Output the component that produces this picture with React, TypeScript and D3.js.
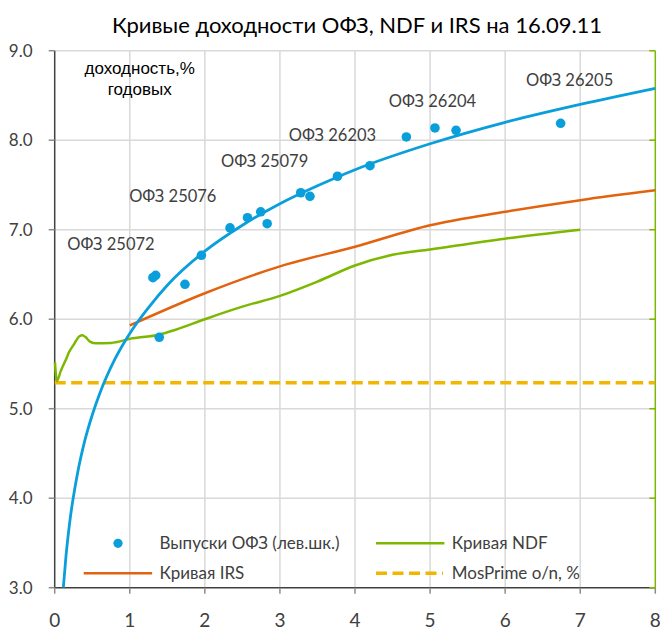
import React from "react";
import * as d3 from "d3";

// ---- data ----
const ofzX = [1.308, 1.345, 1.735, 1.954, 2.335, 2.568, 2.744, 2.83, 3.277, 3.40, 3.767, 4.20, 1.393, 4.684, 5.065, 5.346, 6.739];
const ofzY = [6.464, 6.49, 6.39, 6.714, 7.02, 7.134, 7.20, 7.067, 7.413, 7.373, 7.597, 7.715, 5.798, 8.036, 8.137, 8.11, 8.189];

// trend line through the OFZ issues
const trendX = [0.115, 0.15, 0.2, 0.3, 0.4, 0.5, 0.6, 0.8, 1.0, 1.25, 1.5, 2.0, 2.5, 3.0, 3.5, 4.0, 5.0, 6.0, 7.0, 8.0];
const trendY = [3.0, 3.35, 3.73, 4.26, 4.64, 4.93, 5.17, 5.55, 5.84, 6.13, 6.38, 6.76, 7.05, 7.29, 7.49, 7.67, 7.96, 8.20, 8.40, 8.58];

const irsX = [1.0, 2.0, 3.0, 4.0, 5.0, 6.0, 7.0, 8.0];
const irsY = [5.93, 6.29, 6.59, 6.81, 7.05, 7.20, 7.33, 7.44];

const ndfX = [0.003, 0.03, 0.08, 0.16, 0.19, 0.25, 0.33, 0.37, 0.41, 0.47, 0.55, 0.75, 1.0, 1.4, 1.6, 2.0, 2.5, 3.0, 3.5, 4.0, 4.5, 5.0, 6.0, 7.0];
const ndfY = [5.52, 5.31, 5.42, 5.57, 5.63, 5.71, 5.81, 5.82, 5.80, 5.75, 5.73, 5.735, 5.78, 5.83, 5.88, 6.0, 6.14, 6.26, 6.42, 6.60, 6.72, 6.78, 6.90, 7.0];

const mosPrimeX = [0, 8];
const mosPrimeY = [5.29, 5.29];

const bondLabels = ["ОФЗ 25072", "ОФЗ 25076", "ОФЗ 25079", "ОФЗ 26203", "ОФЗ 26204", "ОФЗ 26205"];
const bondLabelX = [0.75, 1.573, 2.796, 3.70, 5.032, 6.858];
const bondLabelY = [6.773, 7.313, 7.704, 7.991, 8.374, 8.606];

const xTicks = [0, 1, 2, 3, 4, 5, 6, 7, 8];
const yTicks = [3, 4, 5, 6, 7, 8, 9];

const title = "Кривые доходности ОФЗ, NDF и IRS на 16.09.11";
const unitLines = ["доходность,%", "годовых"];
const legendNames = ["Выпуски ОФЗ (лев.шк.)", "Кривая NDF", "Кривая IRS", "MosPrime o/n, %"];

// ---- styles ----
const W = 660, H = 631;
const BLUE = "#0a9fdb";
const ORANGE = "#e2620e";
const GREEN = "#7db800";
const YELLOW = "#f0b600";
const TEXT = "#404040";
const GRID = "#d9d9d9";
const FONT = "Lato, 'Open Sans', sans-serif";

export default function App() {
  const x = d3.scaleLinear().domain([0, 8]).range([54.7, 655.3]);
  const y = d3.scaleLinear().domain([3, 9]).range([587.7, 50.7]);

  const zip = (xs: number[], ys: number[]) => xs.map((v, i) => [v, ys[i]] as [number, number]);
  const line = d3.line<[number, number]>().x(d => x(d[0])).y(d => y(d[1]));
  const smooth = d3.line<[number, number]>().x(d => x(d[0])).y(d => y(d[1])).curve(d3.curveMonotoneX);

  const x0 = x(0), x1 = x(8), yTop = y(9), yBot = y(3);

  return (
    <svg width={W} height={H} style={{ position: "absolute", left: 0, top: 0, background: "#fff" }} fontFamily={FONT}>
      <rect width={W} height={H} fill="#fff" />
      {/* title */}
      <text x={357} y={33} textAnchor="middle" fontSize={22} fill="#000">{title}</text>

      {/* grid */}
      {yTicks.filter(t => t > 3).map(t => (
        <line key={"gy" + t} x1={x0} x2={x1} y1={y(t)} y2={y(t)} stroke={GRID} strokeWidth={1.5} />
      ))}
      {xTicks.filter(t => t > 0 && t < 8).map(t => (
        <line key={"gx" + t} x1={x(t)} x2={x(t)} y1={yTop} y2={yBot} stroke={GRID} strokeWidth={1.5} />
      ))}

      {/* left axis */}
      <line x1={x0} x2={x0} y1={yTop} y2={yBot} stroke={TEXT} strokeWidth={1.5} />
      {yTicks.map(t => (
        <g key={"ly" + t}>
          <line x1={x0 - 6} x2={x0} y1={y(t)} y2={y(t)} stroke="#8c8c8c" strokeWidth={1.5} />
          <text x={32.5} y={y(t)} dy="0.35em" textAnchor="end" fontSize={17} fill={TEXT}>{t.toFixed(1)}</text>
        </g>
      ))}
      {/* bottom axis */}
      <line x1={x0} x2={x1} y1={yBot} y2={yBot} stroke={TEXT} strokeWidth={1.5} />
      {xTicks.map(t => (
        <g key={"lx" + t}>
          <line x1={x(t)} x2={x(t)} y1={yBot} y2={yBot + 6} stroke="#8c8c8c" strokeWidth={1.5} />
          <text x={x(t)} y={627} textAnchor="middle" fontSize={19} fill={TEXT}>{t}</text>
        </g>
      ))}
      {/* right axis (green) */}
      <line x1={x1} x2={x1} y1={yTop} y2={yBot} stroke={GREEN} strokeWidth={1.5} />
      {yTicks.map(t => (
        <line key={"ry" + t} x1={x1 - 6} x2={x1} y1={y(t)} y2={y(t)} stroke={GREEN} strokeWidth={1.5} />
      ))}

      {/* unit label */}
      <text x={139.7} y={73.5} textAnchor="middle" fontSize={17} fill="#000" fontFamily="'Liberation Sans', Arial, sans-serif">{unitLines[0]}</text>
      <text x={139.7} y={95} textAnchor="middle" fontSize={17} fill="#000" fontFamily="'Liberation Sans', Arial, sans-serif">{unitLines[1]}</text>

      {/* series */}
      <path d={line(zip(mosPrimeX, mosPrimeY)) || ""} fill="none" stroke={YELLOW} strokeWidth={3.5} strokeDasharray="11 5.5" />
      <path d={smooth(zip(ndfX, ndfY)) || ""} fill="none" stroke={GREEN} strokeWidth={2.5} strokeLinejoin="round" />
      <path d={smooth(zip(irsX, irsY)) || ""} fill="none" stroke={ORANGE} strokeWidth={2.5} strokeLinejoin="round" />
      <path d={smooth(zip(trendX, trendY)) || ""} fill="none" stroke={BLUE} strokeWidth={2.8} />
      {ofzX.map((v, i) => (
        <circle key={"p" + i} cx={x(v)} cy={y(ofzY[i])} r={4.8} fill={BLUE} />
      ))}

      {/* bond labels */}
      {bondLabels.map((s, i) => (
        <text key={"bl" + i} x={x(bondLabelX[i])} y={y(bondLabelY[i])} textAnchor="middle" fontSize={16.5} fill={TEXT}>{s}</text>
      ))}

      {/* legend */}
      <circle cx={118} cy={543.3} r={4.6} fill={BLUE} />
      <text x={159.5} y={549.3} fontSize={17} fill={TEXT}>{legendNames[0]}</text>
      <line x1={376} x2={444.4} y1={543.3} y2={543.3} stroke={GREEN} strokeWidth={2.5} />
      <text x={451.8} y={549.3} fontSize={17} fill={TEXT}>{legendNames[1]}</text>
      <line x1={83.7} x2={152.1} y1={573.3} y2={573.3} stroke={ORANGE} strokeWidth={2.5} />
      <text x={159.5} y={579.3} fontSize={17} fill={TEXT}>{legendNames[2]}</text>
      <line x1={376} x2={443} y1={573.3} y2={573.3} stroke={YELLOW} strokeWidth={3.5} strokeDasharray="11 5.5" />
      <text x={451.8} y={579.3} fontSize={17} fill={TEXT}>{legendNames[3]}</text>
    </svg>
  );
}
